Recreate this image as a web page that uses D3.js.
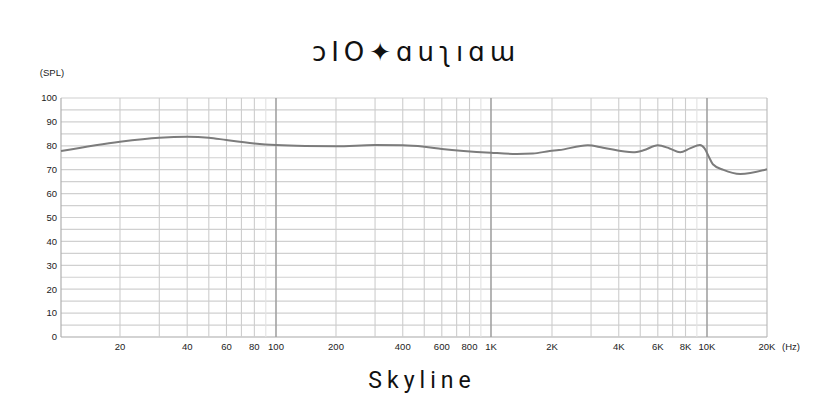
<!DOCTYPE html>
<html>
<head>
<meta charset="utf-8">
<script src="https://cdn.jsdelivr.net/npm/d3@7"></script>
<style>
  html, body { margin: 0; padding: 0; background: #fff; }
  svg { display: block; }
</style>
</head>
<body>
<svg id="chart" width="840" height="420"></svg>
<script>
// ---- data ----
const freqs = [10, 20, 30, 40, 50, 60, 80, 100, 140, 200, 300, 400, 500, 600, 1000, 1340, 1610, 1950, 2150, 2900, 3400, 4640, 5170, 6000, 6780, 7570, 8380, 9290, 9750, 10300, 10700, 12100, 14700, 20000];
const spl   = [77.8, 81.7, 83.4, 83.8, 83.4, 82.4, 81.0, 80.3, 79.9, 79.8, 80.3, 80.2, 79.6, 78.7, 77.1, 76.6, 76.8, 77.8, 78.2, 80.2, 79.2, 77.3, 78.1, 80.2, 78.9, 77.3, 78.9, 80.3, 78.9, 74.8, 72.3, 69.9, 68.2, 70.2];
const yTicks = [0, 10, 20, 30, 40, 50, 60, 70, 80, 90, 100];
const yGrid = d3.range(0, 101, 5);
const xGrid = [20, 30, 40, 50, 60, 70, 80, 90, 100, 200, 300, 400, 500, 600, 700, 800, 900, 1000, 2000, 3000, 4000, 5000, 6000, 7000, 8000, 9000, 10000, 20000];
const xTickVals = [20, 40, 60, 80, 100, 200, 400, 600, 800, 1000, 2000, 4000, 6000, 8000, 10000, 20000];
const xTickLabels = ["20", "40", "60", "80", "100", "200", "400", "600", "800", "1K", "2K", "4K", "6K", "8K", "10K", "20K"];
const chartTitle = "Skyline";
const brand = "ↄIO✦ɑuʅıɑɯ";

(function () {
// ---- layout ----
const svg = d3.select("#chart");
const pLeft = 61, pRight = 767, pTop = 98, pBottom = 337;

const x = d3.scaleLog()
  .domain([10, 20, 100, 200, 1000, 2000, 10000, 20000])
  .range([pLeft, 120, 276, 336, 491, 552, 707, pRight]);
const y = d3.scaleLinear().domain([0, 100]).range([pBottom, pTop]);

// horizontal grid
svg.append("g").selectAll("line").data(yGrid).join("line")
  .attr("x1", pLeft).attr("x2", pRight)
  .attr("y1", d => y(d)).attr("y2", d => y(d))
  .attr("stroke", d => d === 0 ? "#a8a8a8" : "#d0d0d0")
  .attr("stroke-width", 1.2);

// vertical grid
const isDecade = f => f === 100 || f === 1000 || f === 10000;
svg.append("g").selectAll("line").data(xGrid).join("line")
  .attr("x1", d => x(d)).attr("x2", d => x(d))
  .attr("y1", pTop).attr("y2", pBottom)
  .attr("stroke", d => isDecade(d) ? "#a2a2a2" : (d === 20000 ? "#b8b8b8" : (String(d)[0] === "9" ? "#e2e2e2" : "#cdcdcd")))
  .attr("stroke-width", d => isDecade(d) ? 1.6 : 1.1);

// left border
svg.append("line")
  .attr("x1", pLeft).attr("x2", pLeft).attr("y1", pTop).attr("y2", pBottom)
  .attr("stroke", "#b0b0b0").attr("stroke-width", 1.2);

const labelFont = "Liberation Sans, Arial, sans-serif";

// y labels
svg.append("g").selectAll("text").data(yTicks).join("text")
  .attr("x", 57).attr("y", d => y(d) + 3.3)
  .attr("text-anchor", "end")
  .attr("font-family", labelFont)
  .attr("font-size", 9.5).attr("fill", "#222")
  .text(d => d);

svg.append("text")
  .attr("x", 52).attr("y", 76)
  .attr("text-anchor", "middle")
  .attr("font-family", labelFont)
  .attr("font-size", 9.5).attr("fill", "#222")
  .text("(SPL)");

// x labels
svg.append("g").selectAll("text").data(xTickVals).join("text")
  .attr("x", d => x(d)).attr("y", 350)
  .attr("text-anchor", "middle")
  .attr("font-family", labelFont)
  .attr("font-size", 9.5).attr("fill", "#222")
  .text((d, i) => xTickLabels[i]);

svg.append("text")
  .attr("x", 791).attr("y", 350)
  .attr("text-anchor", "middle")
  .attr("font-family", labelFont)
  .attr("font-size", 9.5).attr("fill", "#222")
  .text("(Hz)");

// curve
const pts = freqs.map((f, i) => [x(f), y(spl[i])]);
svg.append("path")
  .attr("d", d3.line().curve(d3.curveMonotoneX)(pts))
  .attr("fill", "none")
  .attr("stroke", "#7c7c7c")
  .attr("stroke-width", 2);

// brand
svg.append("text")
  .attr("x", 416).attr("y", 61)
  .attr("text-anchor", "middle")
  .attr("font-family", "DejaVu Sans, sans-serif")
  .attr("font-weight", 400)
  .attr("font-size", 26)
  .attr("letter-spacing", 5)
  .attr("fill", "#111")
  .text(brand);

// title
svg.append("text")
  .attr("x", 422).attr("y", 388)
  .attr("text-anchor", "middle")
  .attr("font-family", "Roboto, Liberation Sans, sans-serif")
  .attr("font-size", 23)
  .attr("letter-spacing", 5)
  .attr("fill", "#111")
  .text(chartTitle);
})();
</script>
</body>
</html>
